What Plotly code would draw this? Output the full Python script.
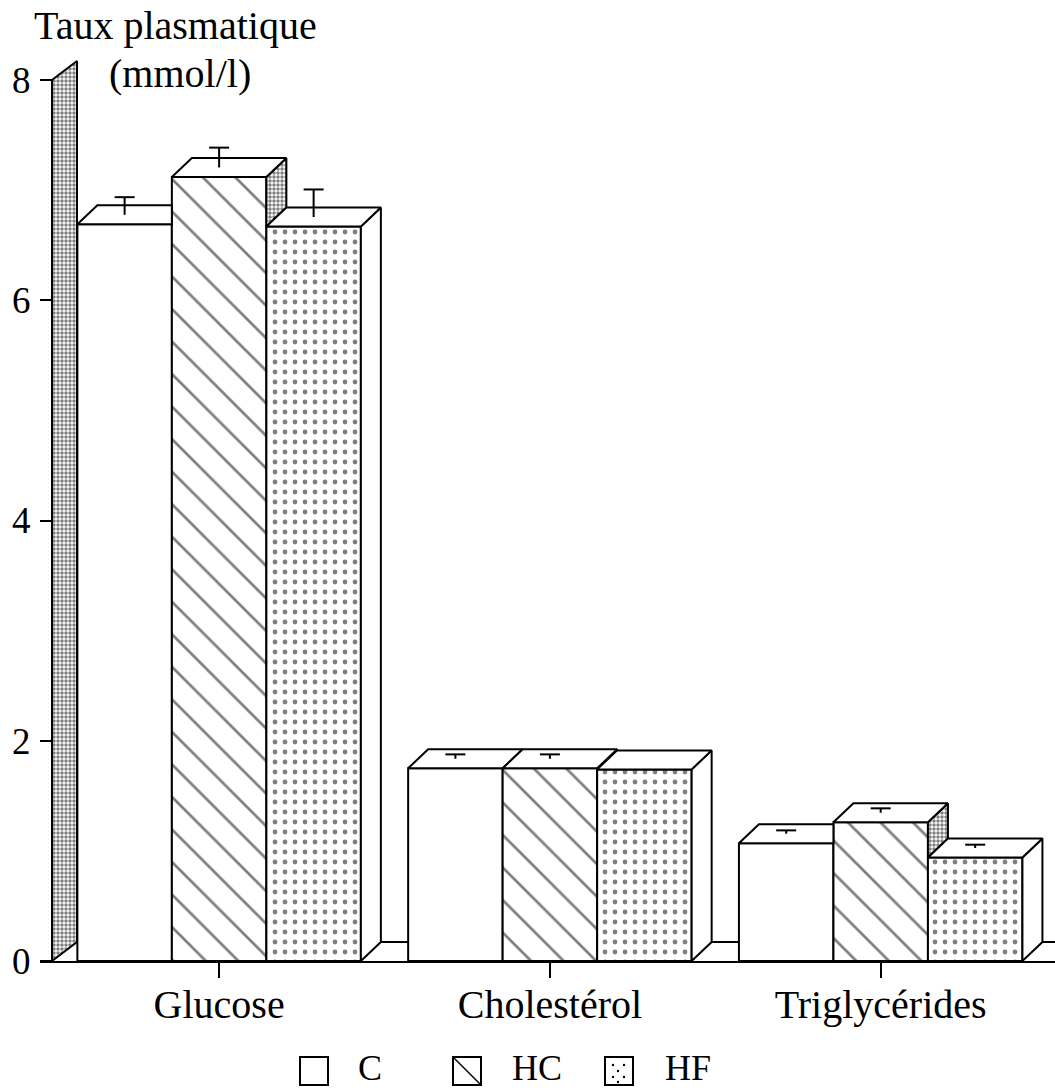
import plotly.graph_objects as go

# ---------------- data ----------------
categories = ["Glucose", "Cholestérol", "Triglycérides"]
series_names = ["C", "HC", "HF"]
c_values = [6.69, 1.75, 1.07]
hc_values = [7.12, 1.75, 1.26]
hf_values = [6.67, 1.74, 0.94]
c_errors = [0.16, 0.04, 0.03]
hc_errors = [0.18, 0.04, 0.04]
hf_errors = [0.25, None, 0.03]
y_tick_values = [0, 2, 4, 6, 8]
y_title_lines = ["Taux plasmatique", "(mmol/l)"]

# ---------------- layout geometry ----------------
W, H = 1055, 1090
M_L, M_R, M_T, M_B = 40, 0, 47, 129
X_RANGE = [-0.5415, 2.527]
Y_RANGE = [0, 8.30]
plot_w = W - M_L - M_R
plot_h = H - M_T - M_B
px_x = plot_w / (X_RANGE[1] - X_RANGE[0])
px_y = plot_h / (Y_RANGE[1] - Y_RANGE[0])

DX = 20 / px_x          # depth offset (x) of the 3D boxes
DY = 19 / px_y          # depth offset (y)
BAR_W = 94.5 / px_x
WALL_X = X_RANGE[0] + 12 / px_x
WALL_DX = 25 / px_x
CAP_HW = 10 / px_x

FONT = "Liberation Serif"
LW = 2

STIPPLE = dict(shape=".", size=4, solidity=0.6, fgcolor="black", bgcolor="white")
PATTERNS = [
    dict(shape="", fgcolor="black", bgcolor="white"),
    dict(shape="\\", size=23, solidity=0.12, fgcolor="black", bgcolor="white"),
    dict(shape=".", size=10, solidity=0.18, fgcolor="black", bgcolor="white"),
]

values = [c_values, hc_values, hf_values]
errors = [c_errors, hc_errors, hf_errors]
x_pos = list(range(len(categories)))

fig = go.Figure()


def poly(pts, pattern=None):
    xs = [p[0] for p in pts] + [pts[0][0]]
    ys = [p[1] for p in pts] + [pts[0][1]]
    kw = dict(x=xs, y=ys, mode="lines", fill="toself", fillcolor="white",
              line=dict(color="black", width=LW),
              hoverinfo="skip", showlegend=False)
    if pattern is not None:
        kw["fillpattern"] = pattern
    fig.add_trace(go.Scatter(**kw))


# front faces (bars)
n = len(series_names)
for si, name in enumerate(series_names):
    fig.add_trace(go.Bar(
        x=x_pos, y=values[si], name=name, width=BAR_W,
        offset=(si - n / 2) * BAR_W,
        marker=dict(color="white", line=dict(color="black", width=LW),
                    pattern=PATTERNS[si]),
        showlegend=False, hoverinfo="skip"))

# left wall (y axis)
top = max(y_tick_values)
poly([(WALL_X, 0), (WALL_X, top), (WALL_X + WALL_DX, top + DY),
      (WALL_X + WALL_DX, DY)], STIPPLE)

# top and side faces of each box (visible parts only)
for i in x_pos:
    for si in range(n):
        xl = i + (si - n / 2) * BAR_W
        xr = xl + BAR_W
        v = values[si][i]
        if si < n - 1:
            vr = values[si + 1][i]
            if vr >= v:
                h = min((vr - v) / DY, 1.0)
                poly([(xl, v), (xr, v), (xr, v + h * DY),
                      (xr + (1 - h) * DX, v + DY), (xl + DX, v + DY)])
            else:
                poly([(xr, vr), (xr, v), (xr + DX, v + DY), (xr + DX, vr + DY)],
                     STIPPLE)
                poly([(xl, v), (xr, v), (xr + DX, v + DY), (xl + DX, v + DY)])
        else:
            poly([(xr, 0), (xr, v), (xr + DX, v + DY), (xr + DX, DY)])
            poly([(xl, v), (xr, v), (xr + DX, v + DY), (xl + DX, v + DY)])

# error bars ("T" standing on the top faces)
ex, ey = [], []
for si in range(n):
    for i in x_pos:
        e = errors[si][i]
        if e is None:
            continue
        xc = i + (si - n / 2) * BAR_W + BAR_W / 2
        base = values[si][i] + DY / 2
        ex += [xc, xc, None, xc - CAP_HW, xc + CAP_HW, None]
        ey += [base, base + e, None, base + e, base + e, None]
fig.add_trace(go.Scatter(x=ex, y=ey, mode="lines",
                         line=dict(color="black", width=LW),
                         hoverinfo="skip", showlegend=False))

# floor back edge
shapes = [dict(type="line", layer="below", xref="x", yref="y",
               x0=WALL_X + WALL_DX, x1=X_RANGE[1], y0=DY, y1=DY,
               line=dict(color="black", width=LW))]


def pxx(px):
    return (px - M_L) / plot_w


def pxy(py):
    return (H - M_B - py) / plot_h


# custom legend
legend_items = [("C", 300, 356), ("HC", 453, 510), ("HF", 605, 663)]
BOX = 28
LEG_TOP = 1057
annotations = []
for k, (label, bx, tx) in enumerate(legend_items):
    shapes.append(dict(type="rect", xref="paper", yref="paper",
                       x0=pxx(bx), x1=pxx(bx + BOX),
                       y0=pxy(LEG_TOP + BOX), y1=pxy(LEG_TOP),
                       line=dict(color="black", width=LW), fillcolor="white"))
    if k == 1:
        shapes.append(dict(type="line", xref="paper", yref="paper",
                           x0=pxx(bx), y0=pxy(LEG_TOP),
                           x1=pxx(bx + BOX), y1=pxy(LEG_TOP + BOX),
                           line=dict(color="black", width=1.5)))
    if k == 2:
        for (ddx, ddy) in [(8, 8), (19, 8), (13, 14), (8, 20), (19, 20), (13, 25)]:
            shapes.append(dict(type="circle", xref="paper", yref="paper",
                               x0=pxx(bx + ddx - 1.2), x1=pxx(bx + ddx + 1.2),
                               y0=pxy(LEG_TOP + ddy + 1.2), y1=pxy(LEG_TOP + ddy - 1.2),
                               line=dict(width=0), fillcolor="black"))
    annotations.append(dict(text=label, xref="paper", yref="paper",
                            x=pxx(tx), y=pxy(LEG_TOP + BOX / 2 - 3),
                            xanchor="left", yanchor="middle", showarrow=False,
                            font=dict(family=FONT, size=36, color="black")))

# y-axis title (two lines, stacked)
annotations.append(dict(text=y_title_lines[0], xref="paper", yref="paper",
                        x=pxx(175), y=pxy(2), xanchor="center", yanchor="top",
                        showarrow=False, borderpad=0,
                        font=dict(family=FONT, size=40, color="black")))
annotations.append(dict(text=y_title_lines[1], xref="paper", yref="paper",
                        x=pxx(180), y=pxy(50), xanchor="center", yanchor="top",
                        showarrow=False, borderpad=0,
                        font=dict(family=FONT, size=40, color="black")))

fig.update_layout(
    width=W, height=H,
    margin=dict(l=M_L, r=M_R, t=M_T, b=M_B, pad=0),
    paper_bgcolor="white", plot_bgcolor="white",
    barmode="overlay",
    showlegend=False,
    font=dict(family=FONT, size=36, color="black"),
    xaxis=dict(range=X_RANGE, tickvals=x_pos, ticktext=categories,
               showline=True, linecolor="black", linewidth=LW,
               ticks="outside", ticklen=15, tickwidth=LW, tickcolor="black",
               ticklabelstandoff=-8,
               showgrid=False, zeroline=False,
               tickfont=dict(family=FONT, size=40, color="black")),
    yaxis=dict(range=Y_RANGE, tickvals=y_tick_values,
               anchor="free", position=pxx(52),
               showline=False, ticks="outside", ticklen=12, tickwidth=LW,
               tickcolor="black", showgrid=False, zeroline=False,
               ticklabelstandoff=2,
               tickfont=dict(family=FONT, size=37, color="black")),
    shapes=shapes,
    annotations=annotations,
)

fig.write_html("out.html", config={"displayModeBar": False},
               post_script="document.body.style.margin='0';")
